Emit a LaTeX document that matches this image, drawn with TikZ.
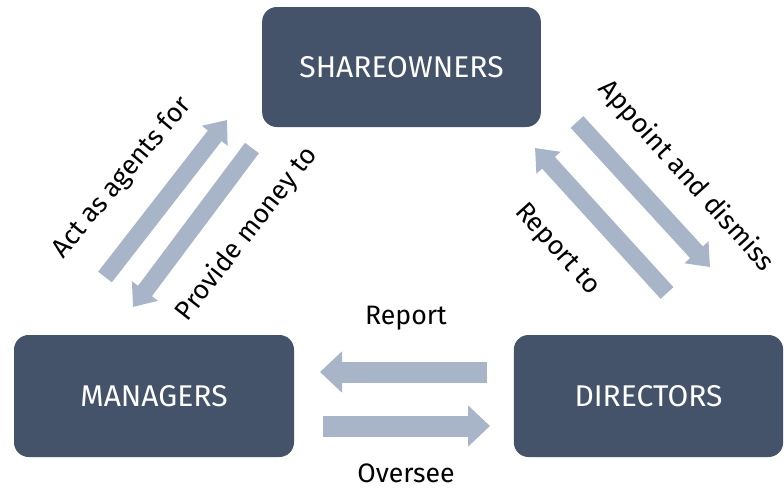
\documentclass[tikz,border=0pt]{standalone}
\usepackage{fontspec}
\setmainfont{Fira Sans}
\usetikzlibrary{arrows.meta}
\definecolor{boxc}{HTML}{44536A}
\definecolor{flowc}{HTML}{A8B5C8}
\begin{document}
\begin{tikzpicture}[x=0.75pt, y=-0.75pt,
    party/.style={fill=boxc, rounded corners=11pt, text=white, font=\fontsize{22.5}{26}\selectfont, inner sep=0pt},
    flow/.style={draw=flowc, line width=15.75pt, -{Triangle[length=16.5pt 0 0, width=30pt 0 0]}},
    slant/.style={draw=flowc, line width=13pt, -{Triangle[length=15pt 0 0, width=23.5pt 0 0]}},
    every node/.style={font=\fontsize{20}{24}\selectfont}]
    \useasboundingbox (0,0) rectangle (784,489);
    % the three parties
    \node[party, minimum width=209pt, minimum height=90pt] (share) at (401.5,67) {SHAREOWNERS};
    \node[party, minimum width=210pt, minimum height=91.5pt] (man) at (154,396) {MANAGERS};
    \node[party, minimum width=202pt, minimum height=91.5pt] (dir) at (648.5,396) {DIRECTORS};
    % arrow ends
    \coordinate (a1) at (105,277); \coordinate (a2) at (227,120);
    \coordinate (p1) at (252,148); \coordinate (p2) at (133,307);
    \coordinate (d1) at (577,122); \coordinate (d2) at (710,267);
    \coordinate (r1) at (667,293); \coordinate (r2) at (535,148);
    \coordinate (h1) at (487,372); \coordinate (h2) at (320,372);
    \coordinate (o1) at (323,426); \coordinate (o2) at (490,426);
    \draw[slant] (a1) -- (a2);
    \draw[slant] (p1) -- (p2);
    \draw[slant] (d1) -- (d2);
    \draw[slant] (r1) -- (r2);
    \draw[flow] (h1) -- (h2);
    \draw[flow] (o1) -- (o2);
    % labels
    \node[rotate=50] (lact) at (122,178) {Act as agents for};
    \node[rotate=52] (lprov) at (247,234) {Provide money to};
    \node[rotate=-48] (lappt) at (686,176) {Appoint and dismiss};
    \node[rotate=-48] (lrep) at (557,250) {Report to};
    \node (lreport) at (406,318) {Report};
    \node (lover) at (406,473) {Oversee};
\end{tikzpicture}
\end{document}
